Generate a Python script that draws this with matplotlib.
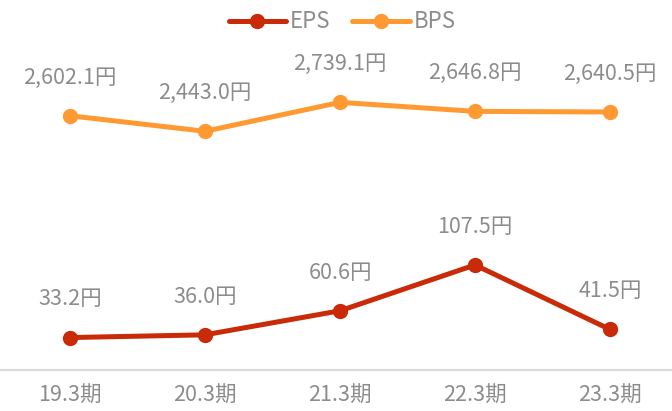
import matplotlib.pyplot as plt

plt.rcParams["font.family"] = ["Noto Sans CJK JP", "DejaVu Sans"]

periods = ["19.3期", "20.3期", "21.3期", "22.3期", "23.3期"]
eps = [33.2, 36.0, 60.6, 107.5, 41.5]
bps = [2602.1, 2443.0, 2739.1, 2646.8, 2640.5]

EPS_COLOR = "#C92A08"
BPS_COLOR = "#FF9A33"
TEXT_COLOR = "#8C8C8C"

fig = plt.figure(figsize=(6.72, 4.11), dpi=100)
ax = fig.add_axes([0, 41 / 411, 1, 342 / 411])
ax2 = ax.twinx()

x = list(range(len(periods)))
l1, = ax.plot(x, eps, color=EPS_COLOR, lw=3.6, marker="o", ms=10,
              solid_capstyle="round", label="EPS", zorder=3)
l2, = ax2.plot(x, bps, color=BPS_COLOR, lw=3.6, marker="o", ms=10,
               solid_capstyle="round", label="BPS", zorder=3)

for xi, v in zip(x, eps):
    ax.annotate(f"{v:,.1f}円", (xi, v), xytext=(0, 27.5), textcoords="offset points",
                ha="center", va="center", fontsize=15.5, color=TEXT_COLOR)
for xi, v in zip(x, bps):
    ax2.annotate(f"{v:,.1f}円", (xi, v), xytext=(0, 27.5), textcoords="offset points",
                 ha="center", va="center", fontsize=15.5, color=TEXT_COLOR)

ax.set_xlim(-70 / 135, 602 / 135)
ax.set_ylim(0, 350)
ax2.set_ylim(0, 3500)

for a in (ax, ax2):
    for s in ("top", "left", "right"):
        a.spines[s].set_visible(False)
    a.set_yticks([])
ax.spines["bottom"].set_color("#D9D9D9")
ax.spines["bottom"].set_linewidth(1.5)
ax2.spines["bottom"].set_visible(False)

ax.set_xticks(x)
ax.set_xticklabels(periods, fontsize=15.5, color=TEXT_COLOR)
ax.tick_params(axis="x", length=0, pad=11)

fig.legend(handles=[l1, l2], loc="center", bbox_to_anchor=(342 / 672, 1 - 22 / 411),
           ncol=2, frameon=False, fontsize=16, labelcolor=TEXT_COLOR,
           handlelength=2.6, handletextpad=0.15, columnspacing=1.0)

fig.savefig("out.png", dpi=100)
